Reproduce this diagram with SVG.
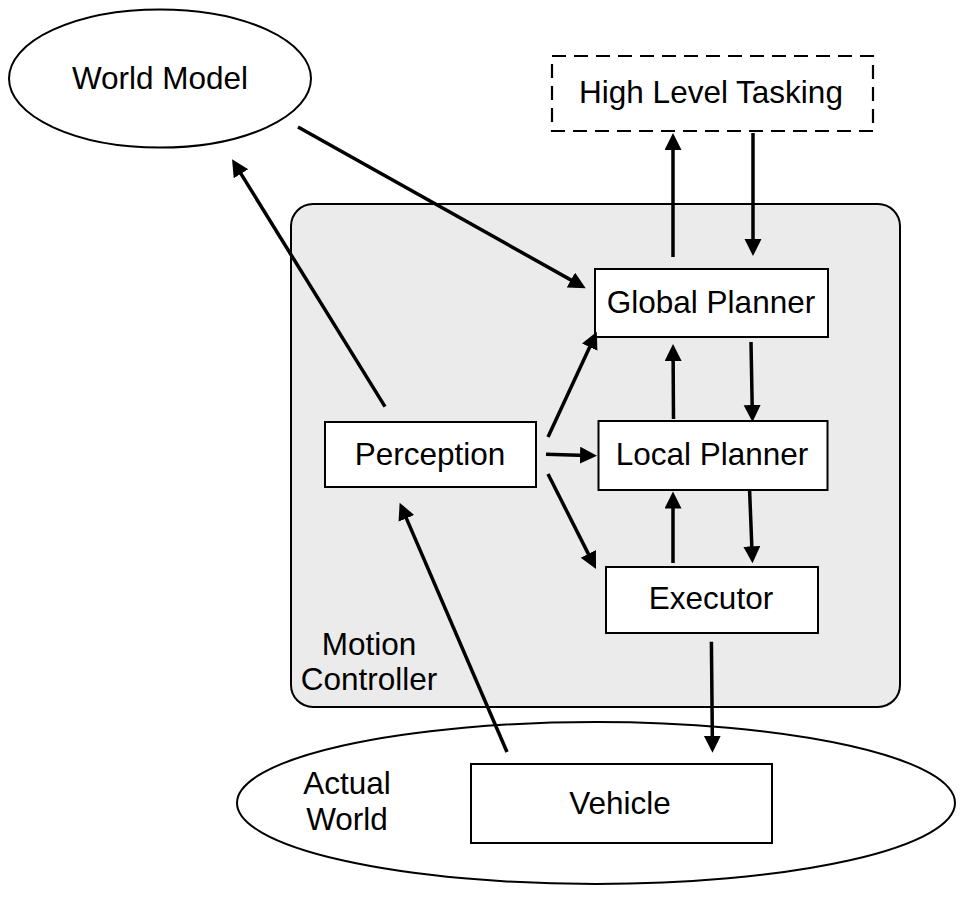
<svg xmlns="http://www.w3.org/2000/svg" width="974" height="900" viewBox="0 0 974 900">
<style>
text{font-family:"Liberation Sans",Arial,sans-serif;font-size:31.5px;fill:#000;text-anchor:middle}
.box{fill:#fff;stroke:#000;stroke-width:2}
.ell{fill:#fff;stroke:#000;stroke-width:2}
.conn line{stroke:#000;stroke-width:3.5;fill:none;marker-end:url(#ah)}
</style>
<defs>
<marker id="ah" markerUnits="userSpaceOnUse" markerWidth="18" markerHeight="18" refX="7" refY="8.5" orient="auto">
<path d="M0,0 L17,8.5 L0,17 z" fill="#000"/>
</marker>
</defs>
<rect width="974" height="900" fill="#fff"/>
<g id="world-model">
<ellipse class="ell" cx="160" cy="78.5" rx="151" ry="69"/>
<text x="160" y="89">World Model</text>
</g>
<g id="high-level-tasking">
<rect x="552" y="56" width="321" height="75" fill="#fff" stroke="#000" stroke-width="2.2" stroke-dasharray="14,8"/>
<text x="711" y="103">High Level Tasking</text>
</g>
<g id="actual-world">
<ellipse class="ell" cx="596" cy="803" rx="359" ry="81"/>
<text x="347" y="794">Actual</text>
<text x="347" y="830">World</text>
</g>
<g id="motion-controller">
<rect x="291" y="204" width="609" height="503" rx="22" fill="#ebebeb" stroke="#000" stroke-width="2"/>
<text x="369" y="655">Motion</text>
<text x="369" y="690">Controller</text>
</g>
<g id="global-planner">
<rect class="box" x="595" y="269" width="233" height="68"/>
<text x="711" y="313">Global Planner</text>
</g>
<g id="local-planner">
<rect class="box" x="598.5" y="421" width="229" height="69"/>
<text x="712" y="465">Local Planner</text>
</g>
<g id="perception">
<rect class="box" x="325" y="422" width="211" height="65"/>
<text x="430" y="465">Perception</text>
</g>
<g id="executor">
<rect class="box" x="606" y="567" width="212" height="66"/>
<text x="711" y="609">Executor</text>
</g>
<g id="vehicle">
<rect class="box" x="471" y="764" width="301" height="79"/>
<text x="620" y="814">Vehicle</text>
</g>
<g id="connectors" class="conn">
<line x1="298" y1="127" x2="577" y2="283.4"/>
<line x1="385" y1="406.7" x2="237.3" y2="167.8"/>
<line x1="673" y1="257" x2="673" y2="143"/>
<line x1="753" y1="133" x2="753" y2="246"/>
<line x1="673.5" y1="419" x2="673.1" y2="354"/>
<line x1="751" y1="342" x2="752.3" y2="412"/>
<line x1="548" y1="437" x2="592.6" y2="340.8"/>
<line x1="546" y1="454.3" x2="587" y2="455.4"/>
<line x1="548" y1="474" x2="591.5" y2="560.1"/>
<line x1="673" y1="563" x2="673" y2="501.5"/>
<line x1="749.6" y1="490.7" x2="752.1" y2="553.3"/>
<line x1="711.4" y1="641.7" x2="712.4" y2="742.7"/>
<line x1="507" y1="752" x2="403.6" y2="511.9"/>
</g>
</svg>
